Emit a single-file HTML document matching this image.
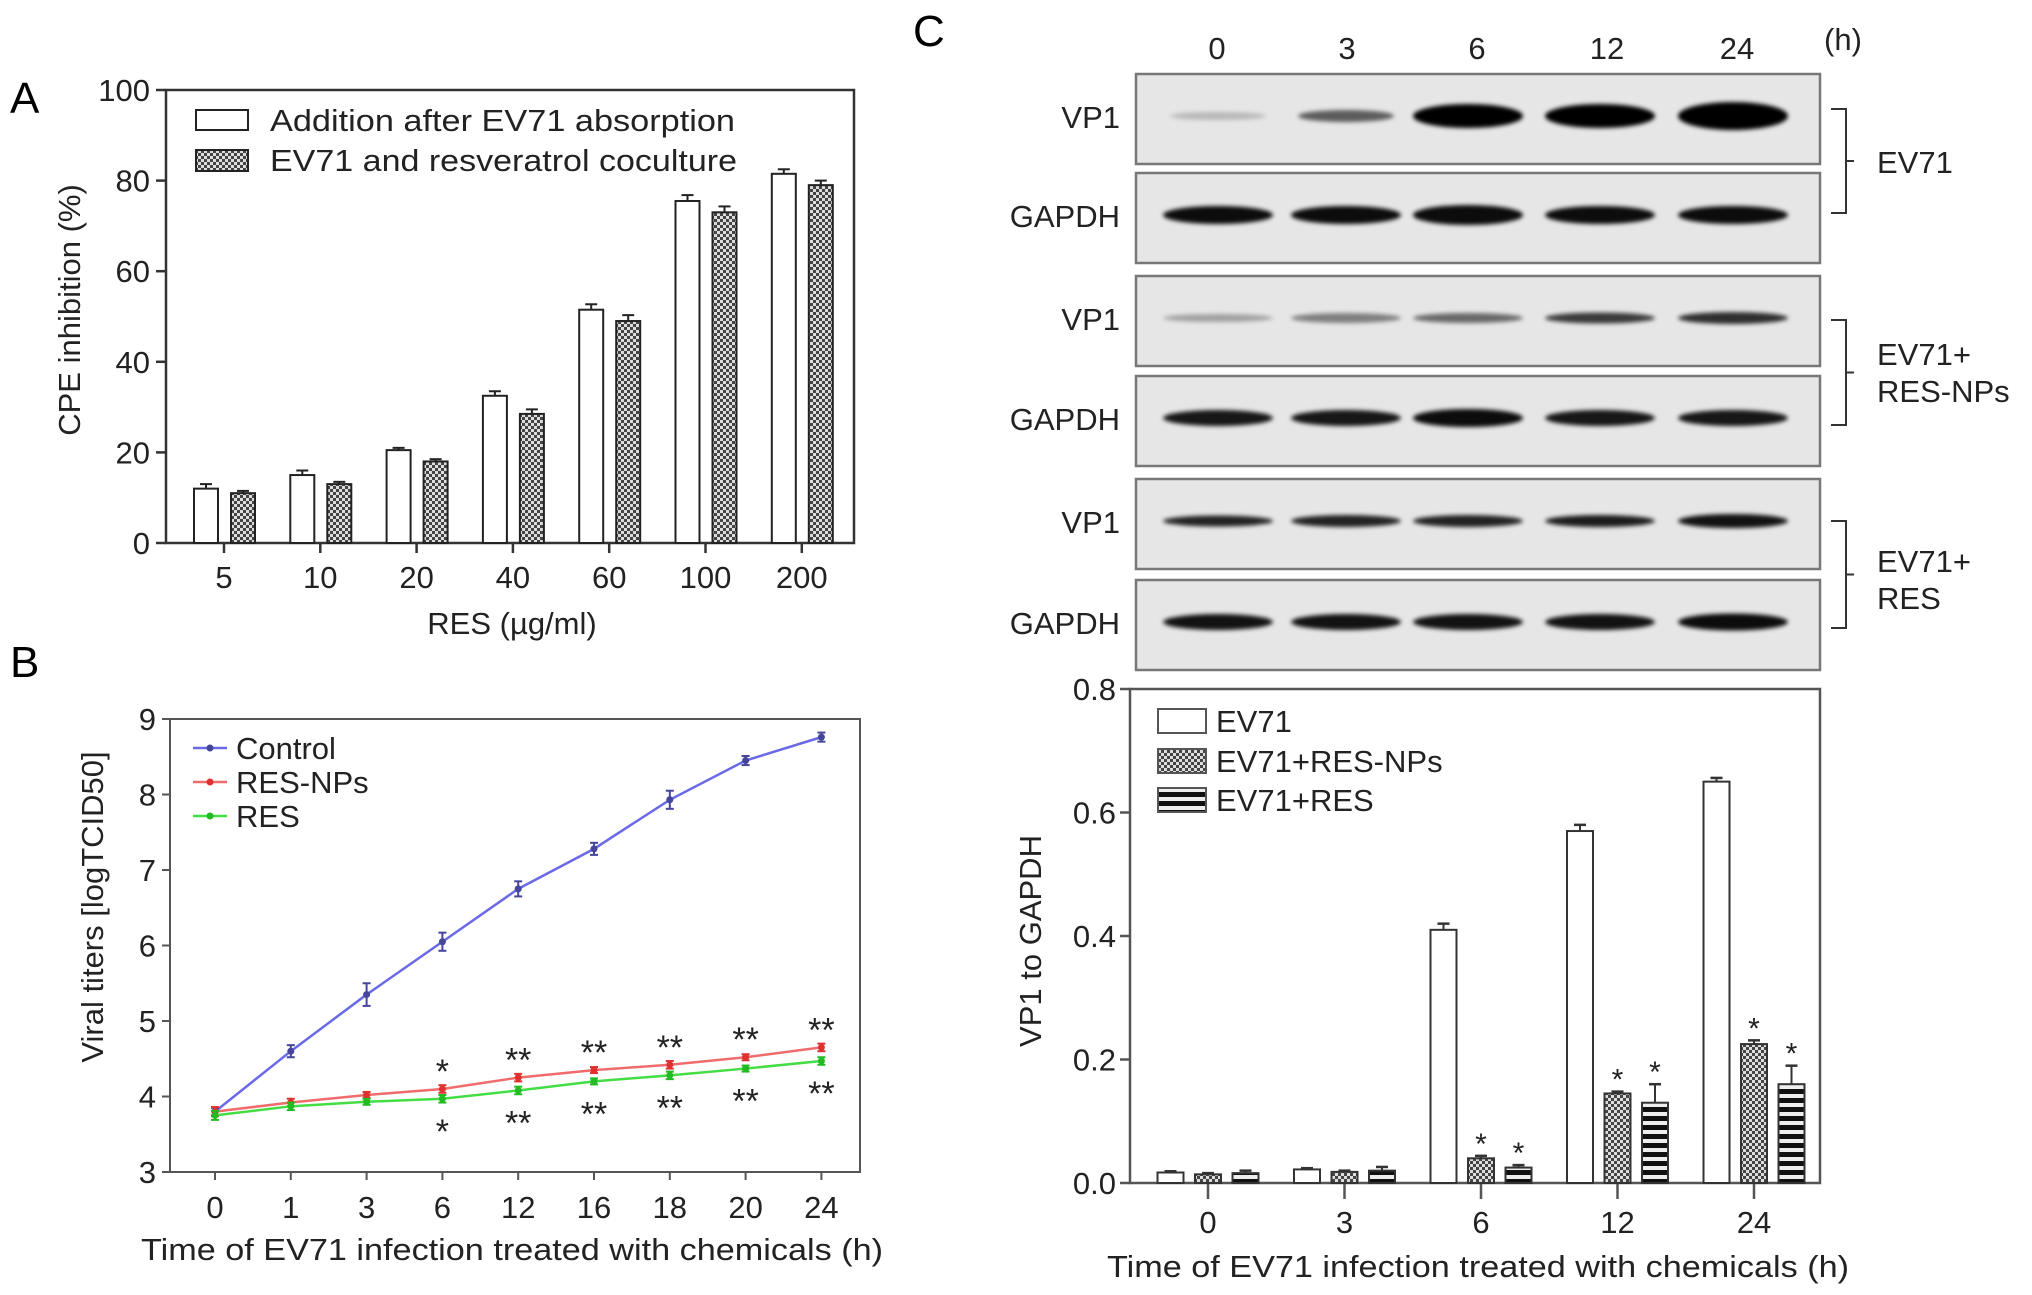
<!DOCTYPE html>
<html><head><meta charset="utf-8">
<style>
html,body{margin:0;padding:0;background:#fff;}
svg{display:block;font-family:"Liberation Sans",Arial,sans-serif;}
</style></head>
<body>
<svg id="fig" width="2032" height="1295" viewBox="0 0 2032 1295" xmlns="http://www.w3.org/2000/svg">
<defs>
  <pattern id="checker" width="6" height="6" patternUnits="userSpaceOnUse">
    <rect width="6" height="6" fill="#444"/>
    <rect x="0" y="0" width="3" height="3" fill="#ddd"/>
    <rect x="3" y="3" width="3" height="3" fill="#ddd"/>
  </pattern>
  <pattern id="stripes" width="9" height="9" patternUnits="userSpaceOnUse">
    <rect width="9" height="9" fill="#111"/>
    <rect x="0" y="5" width="9" height="4" fill="#eee"/>
  </pattern>
  <filter id="blur" x="-20%" y="-80%" width="140%" height="260%"><feGaussianBlur stdDeviation="2"/></filter>
</defs>
<g id="panelA"></g>
<g id="panelB"></g>
<g id="panelC"></g>
</svg>
<script>
// ---------- Panel A data ----------
const catsA = ["5","10","20","40","60","100","200"];
const afterAbs = [12, 15, 20.5, 32.5, 51.5, 75.5, 81.5];
const afterAbsErr = [1, 1, 0.5, 1, 1.2, 1.3, 1];
const cocult = [11, 13, 18, 28.5, 49, 73, 79];
const cocultErr = [0.5, 0.5, 0.5, 1, 1.3, 1.3, 1];
const ticksA = [0, 20, 40, 60, 80, 100];
// ---------- Panel B data ----------
const catsB = ["0","1","3","6","12","16","18","20","24"];
const controlB = [3.8, 4.6, 5.35, 6.05, 6.75, 7.28, 7.93, 8.45, 8.76];
const controlErr = [0.05, 0.08, 0.15, 0.12, 0.1, 0.08, 0.12, 0.06, 0.06];
const resNpB = [3.8, 3.92, 4.02, 4.1, 4.25, 4.35, 4.42, 4.52, 4.65];
const resB = [3.75, 3.87, 3.93, 3.97, 4.08, 4.2, 4.28, 4.37, 4.47];
const errLow = [0.06, 0.05, 0.04, 0.05, 0.05, 0.04, 0.05, 0.04, 0.05];
const starsAbove = ["","","","*","**","**","**","**","**"];
const starsBelow = ["","","","*","**","**","**","**","**"];
const ticksB = [3, 4, 5, 6, 7, 8, 9];
// ---------- Panel C data ----------
const catsC = ["0","3","6","12","24"];
const ev71C = [0.017, 0.022, 0.41, 0.57, 0.65];
const ev71Err = [0.002, 0.002, 0.01, 0.01, 0.006];
const npC = [0.014, 0.018, 0.04, 0.145, 0.225];
const npErr = [0.002, 0.002, 0.004, 0.003, 0.006];
const resC = [0.016, 0.02, 0.025, 0.13, 0.16];
const resErr = [0.004, 0.006, 0.004, 0.03, 0.03];
const starsC = ["","","*","*","*"];
const ticksC = ["0.0","0.2","0.4","0.6","0.8"];
const blotRows = ["VP1","GAPDH","VP1","GAPDH","VP1","GAPDH"];
const blotIntensity = [
  [0.2, 0.6, 1.0, 1.0, 1.0],
  [0.95, 0.95, 0.95, 0.95, 0.95],
  [0.3, 0.45, 0.55, 0.75, 0.8],
  [0.9, 0.9, 0.95, 0.9, 0.9],
  [0.85, 0.85, 0.85, 0.88, 0.92],
  [0.92, 0.92, 0.92, 0.92, 0.95]
];
const blotThickness = [
  [6, 10, 22, 22, 26],
  [16, 16, 18, 16, 16],
  [6, 8, 8, 9, 10],
  [14, 14, 16, 14, 14],
  [9, 10, 10, 10, 12],
  [14, 14, 14, 14, 15]
];

const NS = "http://www.w3.org/2000/svg";
function mk(tag, attrs, parent, text){
  const e = document.createElementNS(NS, tag);
  for (const k in attrs) e.setAttribute(k, attrs[k]);
  if (text !== undefined) e.textContent = text;
  parent.appendChild(e);
  return e;
}

// ================= PANEL A =================
(function(){
  const g = document.getElementById('panelA');
  const L=166,R=854,T=90,B=543;
  const yA = v => B - (v/100)*(B-T);
  const xA = i => 224 + i*96.3;
  let t = mk('text',{x:10,y:113,'font-size':44},g,'A');
  
  
  let fr = mk('rect',{x:L,y:T,width:R-L,height:B-T,fill:'none',stroke:'#333','stroke-width':2.5},g);
  
  
  ticksA.forEach(v=>{
    mk('line',{x1:L-10,x2:L,y1:yA(v),y2:yA(v),stroke:'#333','stroke-width':2.5},g);
    const tl = mk('text',{x:L-16,y:yA(v)+11,'font-size':31,'text-anchor':'end',fill:'#222'},g,String(v));
    
    
  });
  catsA.forEach((c,i)=>{
    const cx = xA(i);
    mk('line',{x1:cx,x2:cx,y1:B,y2:B+10,stroke:'#333','stroke-width':2.5},g);
    const tl = mk('text',{x:cx,y:588,'font-size':31,'text-anchor':'middle',fill:'#222'},g,c);
    
    
    const w=24;
    const b1 = mk('rect',{x:cx-30,y:yA(afterAbs[i]),width:w,height:B-yA(afterAbs[i]),fill:'#fff',stroke:'#222','stroke-width':2},g);
    
    
    const b2 = mk('rect',{x:cx+7,y:yA(cocult[i]),width:w,height:B-yA(cocult[i]),fill:'url(#checker)',stroke:'#222','stroke-width':2},g);
    
    
    [[cx-18,afterAbs[i],afterAbsErr[i]],[cx+19,cocult[i],cocultErr[i]]].forEach(([ex,v,e])=>{
      mk('line',{x1:ex,x2:ex,y1:yA(v),y2:yA(v+e),stroke:'#222','stroke-width':2},g);
      mk('line',{x1:ex-6,x2:ex+6,y1:yA(v+e),y2:yA(v+e),stroke:'#222','stroke-width':2},g);
    });
  });
  let yt = mk('text',{x:0,y:0,'font-size':31,'text-anchor':'middle',fill:'#222',transform:'translate(80,310) rotate(-90)'},g,'CPE inhibition (%)');
  
  
  let xt = mk('text',{x:512,y:634,'font-size':31,'text-anchor':'middle',fill:'#222'},g,'RES (µg/ml)');
  
  
  let l1 = mk('rect',{x:196,y:110,width:52,height:20,fill:'#fff',stroke:'#222','stroke-width':2},g);
  
  
  let l2 = mk('rect',{x:196,y:150,width:52,height:21,fill:'url(#checker)',stroke:'#222','stroke-width':2},g);
  
  
  let lt1 = mk('text',{x:270,y:131,'font-size':31,fill:'#222',textLength:465,lengthAdjust:'spacingAndGlyphs'},g,'Addition after EV71 absorption');
  
  
  let lt2 = mk('text',{x:270,y:171,'font-size':31,fill:'#222',textLength:467,lengthAdjust:'spacingAndGlyphs'},g,'EV71 and resveratrol coculture');
  
  
})();

// ================= PANEL B =================
(function(){
  const g = document.getElementById('panelB');
  const L=170,R=860,T=719,B=1172;
  const yB = v => B - (v-3)/6*(B-T);
  const xB = i => 215 + i*75.8;
  let t = mk('text',{x:10,y:677,'font-size':44},g,'B');
  
  
  let fr = mk('rect',{x:L,y:T,width:R-L,height:B-T,fill:'none',stroke:'#555','stroke-width':2},g);
  
  
  ticksB.forEach(v=>{
    mk('line',{x1:L-8,x2:L,y1:yB(v),y2:yB(v),stroke:'#555','stroke-width':2},g);
    const tl = mk('text',{x:L-14,y:yB(v)+11,'font-size':31,'text-anchor':'end',fill:'#222'},g,String(v));
    
    
  });
  catsB.forEach((c,i)=>{
    mk('line',{x1:xB(i),x2:xB(i),y1:B,y2:B+8,stroke:'#555','stroke-width':2},g);
    const tl = mk('text',{x:xB(i),y:1218,'font-size':31,'text-anchor':'middle',fill:'#222'},g,c);
    
    
  });
  const series = [
    {name:'control',vals:controlB,err:controlErr,col:'#6a6ae8',mk:'#45459a'},
    {name:'res-nps',vals:resNpB,err:errLow,col:'#f06c6c',mk:'#e03030'},
    {name:'res',vals:resB,err:errLow,col:'#44dd44',mk:'#22bb22'}
  ];
  series.forEach(s=>{
    const pts = s.vals.map((v,i)=>xB(i)+','+yB(v)).join(' ');
    const pl = mk('polyline',{points:pts,fill:'none',stroke:s.col,'stroke-width':2.5},g);
    
    
    s.vals.forEach((v,i)=>{
      const x=xB(i);
      mk('line',{x1:x,x2:x,y1:yB(v-s.err[i]),y2:yB(v+s.err[i]),stroke:s.mk,'stroke-width':2},g);
      mk('line',{x1:x-4,x2:x+4,y1:yB(v+s.err[i]),y2:yB(v+s.err[i]),stroke:s.mk,'stroke-width':2},g);
      mk('line',{x1:x-4,x2:x+4,y1:yB(v-s.err[i]),y2:yB(v-s.err[i]),stroke:s.mk,'stroke-width':2},g);
      const p = mk('circle',{cx:x,cy:yB(v),r:3.5,fill:s.mk},g);
      
      
    });
  });
  catsB.forEach((c,i)=>{
    if(starsAbove[i]){
      const st = mk('text',{x:xB(i),y:yB(resNpB[i])-6,'font-size':34,'text-anchor':'middle',fill:'#222'},g,starsAbove[i]);
      
      
    }
    if(starsBelow[i]){
      const st = mk('text',{x:xB(i),y:yB(resB[i])+44,'font-size':34,'text-anchor':'middle',fill:'#222'},g,starsBelow[i]);
      
      
    }
  });
  const legY=[748,782,816], legLab=['Control','RES-NPs','RES'];
  series.forEach((s,k)=>{
    mk('line',{x1:193,x2:227,y1:legY[k],y2:legY[k],stroke:s.col,'stroke-width':2.5},g);
    mk('circle',{cx:210,cy:legY[k],r:3.5,fill:s.mk},g);
    const lt = mk('text',{x:236,y:legY[k]+11,'font-size':31,fill:'#222'},g,legLab[k]);
    
    
  });
  let yt = mk('text',{x:0,y:0,'font-size':31,'text-anchor':'middle',fill:'#222',transform:'translate(103,907) rotate(-90)'},g,'Viral titers [logTCID50]');
  
  
  let xt = mk('text',{x:512,y:1260,'font-size':31,'text-anchor':'middle',fill:'#222',textLength:742,lengthAdjust:'spacingAndGlyphs'},g,'Time of EV71 infection treated with chemicals (h)');
  
  
})();

// ================= PANEL C =================
(function(){
  const g = document.getElementById('panelC');
  let t = mk('text',{x:913,y:46,'font-size':44},g,'C');
  
  
  const laneX = i => 1217 + i*130;
  const bandX = [1218,1346,1468,1600,1733];
  catsC.forEach((c,i)=>{
    const h = mk('text',{x:laneX(i),y:59,'font-size':31,'text-anchor':'middle',fill:'#222'},g,c);
    
    
  });
  mk('text',{x:1843,y:50,'font-size':31,'text-anchor':'middle',fill:'#222'},g,'(h)');
  const boxT=[74,173,276,376,479,580], boxH=90;
  blotRows.forEach((r,k)=>{
    const bx = mk('rect',{x:1136,y:boxT[k],width:684,height:boxH,fill:'#e6e6e6',stroke:'#777','stroke-width':2.5},g);
    
    
    const cy = boxT[k]+ boxH/2 - 3;
    const lb = mk('text',{x:1120,y:cy+12,'font-size':31,'text-anchor':'end',fill:'#222'},g,r);
    
    
    blotIntensity[k].forEach((v,i)=>{
      const e = mk('ellipse',{cx:bandX[i],cy:cy,rx:(k===0&&i<2)?48:55,ry:blotThickness[k][i]/2+1,fill:'#000','fill-opacity':v,filter:'url(#blur)'},g);
      
      
    });
  });
  const brackets=[[109,213,'EV71',null,161],[320,425,'EV71+','RES-NPs',353],[521,628,'EV71+','RES',560]];
  brackets.forEach(b=>{
    const m=(b[0]+b[1])/2;
    mk('path',{d:`M1831 ${b[0]} L1846 ${b[0]} L1846 ${b[1]} L1831 ${b[1]} M1846 ${m} L1854 ${m}`,fill:'none',stroke:'#333','stroke-width':2},g);
    const t1 = mk('text',{x:1877,y:b[4]+12,'font-size':31,fill:'#222'},g,b[2]);
    
    
    if(b[3]){ mk('text',{x:1877,y:b[4]+49,'font-size':31,fill:'#222'},g,b[3]); }
  });
  const L=1130,R=1820,T=689,B=1183;
  const yC = v => B - v/0.8*(B-T);
  const xC = i => 1208 + i*136.5;
  let fr = mk('rect',{x:L,y:T,width:R-L,height:B-T,fill:'none',stroke:'#555','stroke-width':2.5},g);
  
  
  ticksC.forEach(s=>{
    const v=parseFloat(s);
    mk('line',{x1:L-10,x2:L,y1:yC(v),y2:yC(v),stroke:'#555','stroke-width':2.5},g);
    const tl = mk('text',{x:L-14,y:yC(v)+11,'font-size':31,'text-anchor':'end',fill:'#222'},g,s);
    
    
  });
  const ser=[
    {n:'ev71',v:ev71C,e:ev71Err,f:'#fff',o:-37.5},
    {n:'ev71-res-nps',v:npC,e:npErr,f:'url(#checker)',o:0},
    {n:'ev71-res',v:resC,e:resErr,f:'url(#stripes)',o:37.5}
  ];
  catsC.forEach((c,i)=>{
    const cx=xC(i);
    mk('line',{x1:cx,x2:cx,y1:B,y2:B+16,stroke:'#555','stroke-width':2.5},g);
    const tl = mk('text',{x:cx,y:1233,'font-size':31,'text-anchor':'middle',fill:'#222'},g,c);
    
    
    ser.forEach(s=>{
      const bx=cx+s.o, v=s.v[i], e=s.e[i];
      const r = mk('rect',{x:bx-13,y:yC(v),width:26,height:B-yC(v),fill:s.f,stroke:'#333','stroke-width':2},g);
      
      
      mk('line',{x1:bx,x2:bx,y1:yC(v),y2:yC(v+e),stroke:'#333','stroke-width':2},g);
      mk('line',{x1:bx-6,x2:bx+6,y1:yC(v+e),y2:yC(v+e),stroke:'#333','stroke-width':2.5},g);
      if(s.o!==-37.5 && starsC[i]){
        const st = mk('text',{x:bx,y:yC(v+e)-2,'font-size':30,'text-anchor':'middle',fill:'#222'},g,starsC[i]);
        
        
      }
    });
  });
  const legY=[721,761,800], legLab=['EV71','EV71+RES-NPs','EV71+RES'];
  ser.forEach((s,k)=>{
    const sw = mk('rect',{x:1158,y:legY[k]-12,width:48,height:24,fill:s.f,stroke:'#555','stroke-width':2},g);
    
    
    const lt = mk('text',{x:1216,y:legY[k]+11,'font-size':31,fill:'#222'},g,legLab[k]);
    
    
  });
  let yt = mk('text',{x:0,y:0,'font-size':31,'text-anchor':'middle',fill:'#222',transform:'translate(1041,941) rotate(-90)'},g,'VP1 to GAPDH');
  
  
  let xt = mk('text',{x:1478,y:1277,'font-size':31,'text-anchor':'middle',fill:'#222',textLength:742,lengthAdjust:'spacingAndGlyphs'},g,'Time of EV71 infection treated with chemicals (h)');
  
  
})();
</script>
</body></html>
